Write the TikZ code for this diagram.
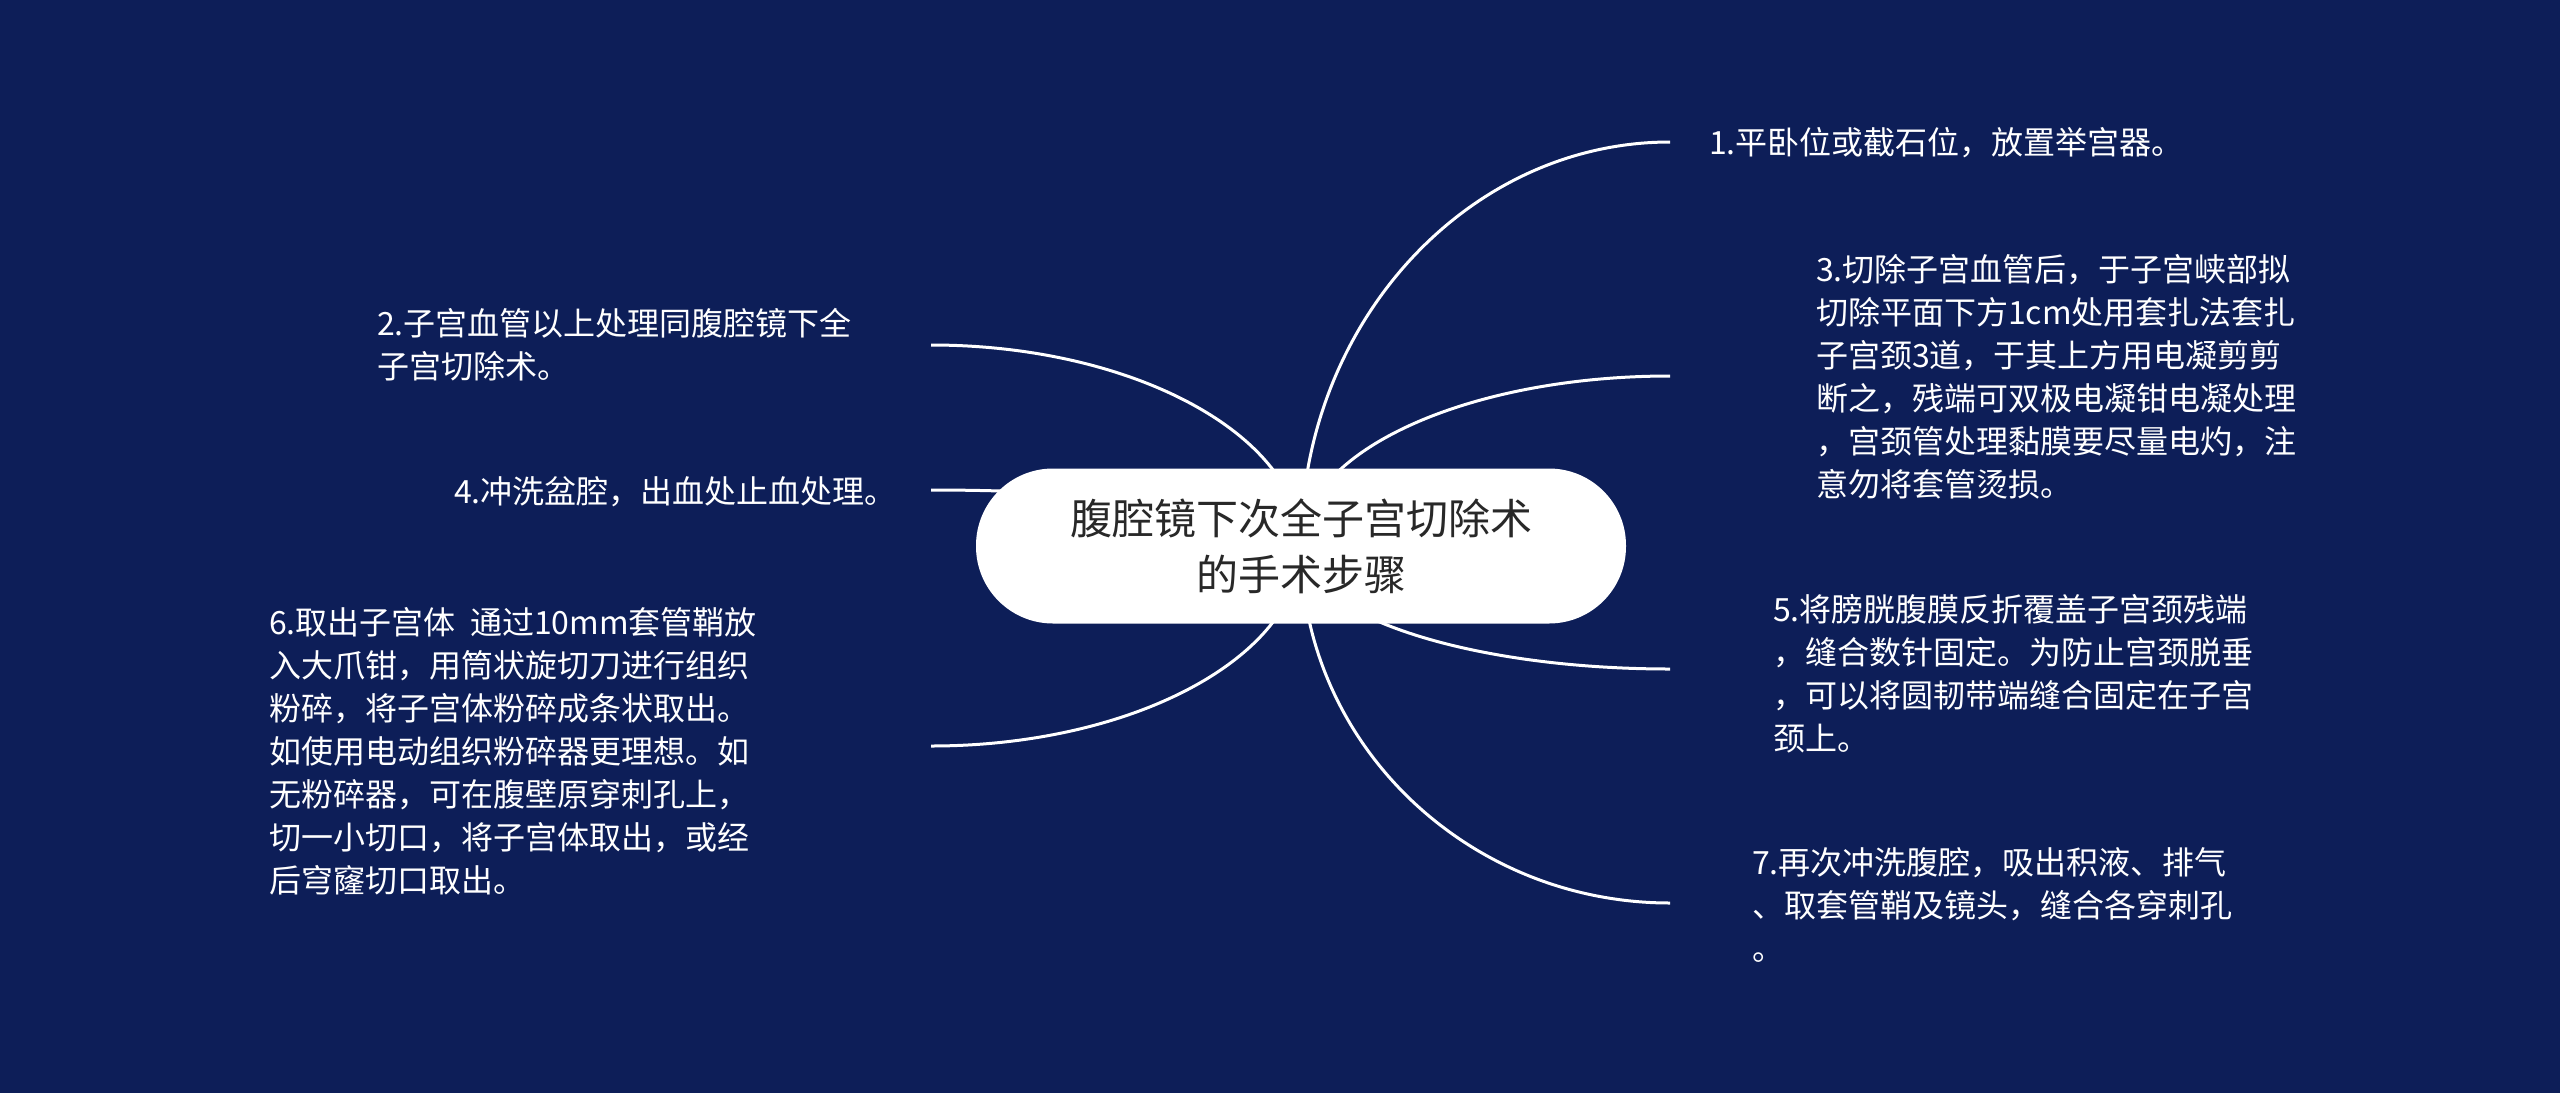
\documentclass[tikz,border=0pt]{standalone}
\usepackage{fontspec}
\setmainfont{Noto Sans CJK SC}
\definecolor{bg}{RGB}{13,30,88}
\definecolor{ctext}{RGB}{40,40,40}
\begin{document}
\begin{tikzpicture}[x=1pt,y=-1pt,
  txt/.style={anchor=north west, inner sep=0pt, align=left, text=white,
    font=\fontsize{32}{43}\selectfont},
  br/.style={draw=white, line width=3pt},
  root/.style={fill=white, rounded corners=77pt, minimum width=650pt,
    minimum height=155pt, inner sep=0pt, align=center, text=ctext,
    font=\fontsize{42}{56}\selectfont}]
\useasboundingbox (0,0) rectangle (2560,1093);
\fill[bg] (0,0) rectangle (2560,1093);
% anchor coordinates
\coordinate (o) at (1301,546);
\coordinate (e1) at (1670,142);
\coordinate (e3) at (1670,376);
\coordinate (e5) at (1670,669);
\coordinate (e7) at (1670,903);
\coordinate (e2) at (931,345);
\coordinate (e4) at (931,490);
\coordinate (e6) at (931,746);
% connectors
\draw[br] (o) .. controls (1301,324) and (1467,142) .. (e1);
\draw[br] (o) .. controls (1301,452) and (1466,376) .. (e3);
\draw[br] (o) .. controls (1301,614) and (1466,669) .. (e5);
\draw[br] (o) .. controls (1301,742) and (1466,903) .. (e7);
\draw[br] (o) .. controls (1301,436) and (1134,345) .. (e2);
\draw[br] (o) .. controls (1301,515) and (1134,490) .. (e4);
\draw[br] (o) .. controls (1301,656) and (1134,746) .. (e6);
% root
\node[root] (c) at (1301,546) {腹腔镜下次全子宫切除术\\的手术步骤};
% texts
\node[txt] (t1) at (1709,127) {1.平卧位或截石位，放置举宫器。};
\node[txt] (t3) at (1816,254) {3.切除子宫血管后，于子宫峡部拟\\切除平面下方1cm处用套扎法套扎\\子宫颈3道，于其上方用电凝剪剪\\断之，残端可双极电凝钳电凝处理\\，宫颈管处理黏膜要尽量电灼，注\\意勿将套管烫损。};
\node[txt] (t5) at (1773,594) {5.将膀胱腹膜反折覆盖子宫颈残端\\，缝合数针固定。为防止宫颈脱垂\\，可以将圆韧带端缝合固定在子宫\\颈上。};
\node[txt] (t7) at (1752,847) {7.再次冲洗腹腔，吸出积液、排气\\、取套管鞘及镜头，缝合各穿刺孔\\。};
\node[txt] (t2) at (377,308) {2.子宫血管以上处理同腹腔镜下全\\子宫切除术。};
\node[txt] (t4) at (454,476) {4.冲洗盆腔，出血处止血处理。};
\node[txt] (t6) at (269,607) {6.取出子宫体\ \ 通过10mm套管鞘放\\入大爪钳，用筒状旋切刀进行组织\\粉碎，将子宫体粉碎成条状取出。\\如使用电动组织粉碎器更理想。如\\无粉碎器，可在腹壁原穿刺孔上，\\切一小切口，将子宫体取出，或经\\后穹窿切口取出。};
\end{tikzpicture}
\end{document}
